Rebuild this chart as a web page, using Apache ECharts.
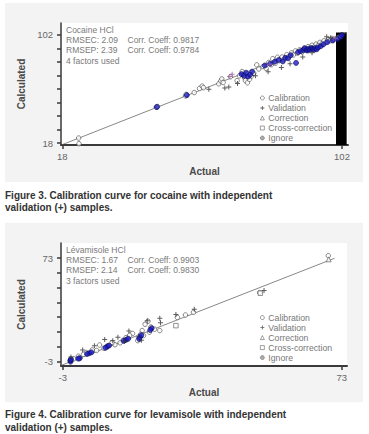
<!DOCTYPE html>
<html><head><meta charset="utf-8">
<script src="https://cdn.jsdelivr.net/npm/echarts@6/dist/echarts.min.js"></script>
<style>html,body{margin:0;padding:0;background:#fff;}#c{width:369px;height:434px;}</style>
</head><body><div id="c"></div>
<script>
// ---------- Chart 1: Cocaine HCl ----------
const cocaineCalibration = [[22.9,21.9],[23,17.5],[46.2,45.8],[46.6,46.4],[55,54.6],[55.2,55.8],[57.6,57.2],[59.2,60.4],[60,62.2],[60.4,61],
  [65,64],[65.6,66.2],[65.9,67.8],[66.3,65],[68.5,69.5],[70.5,66.5],[71.2,70.2],[72,73.5],[72.4,71.2],[72.8,68.4],[73,66.5],[73.6,64.8],
  [74.2,67.5],[74.8,70],[75.5,72.2],[76.4,78.7],[77,75.5],[78.3,77.4],[79.2,76],[80,80.6],[80.8,78.8],[81.2,83.5],[82,80],[82.6,84.6],
  [83.2,82],[84,84.8],[84.6,83.2],[85.4,86.6],[86,85],[86.8,88],[87.4,86.4],[88,89.5],[88.6,87.8],[89.3,90.4],[90,88.7],[90.6,91.6],
  [91.2,90],[91.8,92.8],[92.4,91.2],[93,94],[93.6,92.4],[94.2,94.8],[94.8,93.6],[95.4,96.2],[96,95.2],[96.6,97.4],[97.2,96],[97.8,98.2],
  [98.4,97.4],[99,99.2],[99.6,98.6],[100.8,99.7],[101.4,100.6]];
const cocaineSelected = [[46.4,46],[55.4,55.2],[71.8,71.5],[72.6,70.2],[73.2,72.6],[73.8,69.6],[74.4,71],[75,73.4],[78.8,78.2],[80.4,79.6],
  [81.8,81.2],[83,82.6],[84.2,81.4],[85,84.2],[85.8,83.8],[86.6,86.2],[88.2,80.2],[88.8,88.6],[89.6,89.4],[90.4,90.2],[90.8,91.6],[91.4,90.6],
  [91.6,89.8],[92,91.2],[92.4,90.4],[92.8,91.8],[93.2,91],[93.6,90.4],[94,91.6],[94.4,90.8],[94.8,92.2],[95.6,93.2],[96.4,94.6],[97.6,96.4],
  [99.2,97.6],[100.6,98.8],[101.6,100.4],[102,101.8]];
const cocaineValidation = [[62,59.8],[66.8,60.7],[68,61.5],[70.6,64.2],[76,70.2],[79.8,73.4],[83.8,76.6],[86.4,79.6],[90.2,84.8],[93,88.2],[97.4,100.6],[98.6,99.8]];
const cocainePurple = [[68.3,69.7],[69,71.4],[80.2,79],[100,99.4]];
const cocaineFit = [[17.8,16.6],[103.5,103.9]];
const cocaineBand = [[100.2,103.8],[103.4,16.5]];
const cocaineXTicks = [18,102];
const cocaineYTicks = [18,28.5,39,49.5,60,70.5,81,91.5,102];
const cocaineYLabels = [18,102];
const cocaineInfo = ['Cocaine HCl','RMSEC: 2.09','RMSEP: 2.39','4 factors used'];
const cocaineCorr = ['Corr. Coeff: 0.9817','Corr. Coeff: 0.9784'];

// ---------- Chart 2: Levamisole HCl ----------
const levCalibration = [[69.3,74.7],[50.6,47.6],[32.6,33.2],[30.4,31.2],[28.2,29.4],[23.4,19.8],[21,22.4],[20.2,26.6],[19.4,24.4],[18.6,19.8],
  [18.2,17],[17.6,15],[17.4,12.4],[19,16.2],[20.6,18.6],[22,20.8],[16,17.6],[15.2,16.4],[14.2,14.6],[13.4,12.6],[12.6,10.8],[11.2,9.4],
  [10.4,11],[9.2,8.6],[8.2,6.8],[7,9.2],[6.2,5.2],[5,5.6],[3.4,3.6],[2.6,2.4],[1.2,1],[0,-1],[-1,-2.2]];
const levSelected = [[21.2,21.5],[20.8,20.2],[18,14.9],[18.4,16.4],[17.8,13.6],[14.2,13],[13.6,12.2],[14.8,13.8],[9.1,8],[8.6,7.2],[9.6,8.8],
  [4.2,3.2],[3.6,2.6],[4.8,3.8],[1.6,-0.5],[1.2,-0.8],[-0.9,-3],[-0.9,-2],[-0.8,-1.2]];
const levValidation = [[51.8,49.2],[32.8,35.4],[23.4,28.8],[23.6,25.6],[27.8,31.6],[20,27],[15,19.4],[8.4,13.2],[2.4,5.6],[5.6,8.6],
  [10.6,12.4],[13.8,12],[18.4,12.6],[12,14.8],[-0.8,0.4]];
const levCorrection = [[69.4,72]];
const levCross = [[27.8,23.4],[50.8,47.2]];
const levFit = [[-3.5,-5.8],[71,72.8]];
const levXTicks = [-3,73];
const levYTicks = [-3,7.857,18.714,29.571,40.429,51.286,62.143,73];
const levYLabels = [-3,73];
const levInfo = ['Lévamisole HCl','RMSEC: 1.67','RMSEP: 2.14','3 factors used'];
const levCorr = ['Corr. Coeff: 0.9903','Corr. Coeff: 0.9830'];

const legendNames = ['Calibration','Validation','Correction','Cross-correction','Ignore'];
const captions = [
  ['Figure 3. Calibration curve for cocaine with independent','validation (+) samples.'],
  ['Figure 4. Calibration curve for levamisole with independent','validation (+) samples.']
];

const FONT = "'Liberation Sans', Arial, Helvetica, sans-serif";
const AX = '#3a3a3a';
const PLUS = 'path://M4,0H6V4H10V6H6V10H4V6H0V4H4Z';

function xAxisCfg(grid, min, max, ticks, name) {
  return {
    type: 'value', gridIndex: grid, min: min, max: max, name: name,
    nameLocation: 'middle', nameGap: 21,
    nameTextStyle: {fontFamily: FONT, fontWeight: 'bold', fontSize: 10, color: '#4a4a4a'},
    axisLine: {onZero: false, lineStyle: {color: AX, width: 2}},
    axisTick: {show: true, customValues: ticks, length: 4, lineStyle: {color: AX, width: 1.5}},
    axisLabel: {customValues: ticks, margin: 6, fontFamily: FONT, fontSize: 9.5, color: '#666'},
    splitLine: {show: false}
  };
}
function yAxisCfg(grid, min, max, ticks, labels, name) {
  return {
    type: 'value', gridIndex: grid, min: min, max: max, name: name,
    nameLocation: 'middle', nameGap: 35, nameRotate: 90,
    nameTextStyle: {fontFamily: FONT, fontWeight: 'bold', fontSize: 10, color: '#4a4a4a'},
    axisLine: {onZero: false, lineStyle: {color: AX, width: 1.5}},
    axisTick: {show: true, customValues: ticks, length: 4, lineStyle: {color: AX, width: 1.5}},
    axisLabel: {customValues: labels, margin: 8, fontFamily: FONT, fontSize: 9.5, color: '#666'},
    splitLine: {show: false}
  };
}
function seriesFor(idx, d) {
  const base = {type: 'scatter', xAxisIndex: idx, yAxisIndex: idx, animation: false};
  return [
    {type: 'line', xAxisIndex: idx, yAxisIndex: idx, data: d.fit, symbol: 'none', silent: true, animation: false,
     lineStyle: {color: '#555', width: 0.7}, z: 1,
     markArea: d.band ? {silent: true, itemStyle: {color: '#000', opacity: 1},
       data: [[{coord: d.band[0]}, {coord: d.band[1]}]]} : undefined},
    Object.assign({}, base, {name: 'Calibration', data: d.cal, symbol: 'circle', symbolSize: 4.5,
      itemStyle: {color: '#fff', borderColor: '#444', borderWidth: 0.8}, z: 2}),
    Object.assign({}, base, {name: 'Selected', data: d.sel, symbol: 'circle', symbolSize: 5,
      itemStyle: {color: '#1c1cc8', borderColor: '#0c0c50', borderWidth: 0.8}, z: 3}),
    Object.assign({}, base, {name: 'Validation', data: d.val, symbol: PLUS, symbolSize: 5,
      itemStyle: {color: '#333'}, z: 4}),
    Object.assign({}, base, {name: 'Correction', data: d.cor, symbol: 'triangle', symbolSize: 5,
      itemStyle: {color: '#fff', borderColor: '#555', borderWidth: 0.8}, z: 4}),
    Object.assign({}, base, {name: 'Cross-correction', data: d.cross, symbol: 'rect', symbolSize: 4.5,
      itemStyle: {color: '#fff', borderColor: '#555', borderWidth: 0.8}, z: 4}),
    Object.assign({}, base, {name: 'Ignore', data: [], symbol: 'circle', symbolSize: 5,
      itemStyle: {color: '#999', borderColor: '#666', borderWidth: 0.8}, z: 4}),
    Object.assign({}, base, {name: 'Other', data: d.purple, symbol: PLUS, symbolSize: 5,
      itemStyle: {color: '#9a5a9a'}, z: 4})
  ];
}
function legendCfg(top) {
  return {data: legendNames, orient: 'vertical', left: 260, top: top, padding: 0, itemGap: 0,
    itemWidth: 4, itemHeight: 4, selectedMode: false,
    itemStyle: {borderWidth: 0.7},
    textStyle: {fontFamily: FONT, fontSize: 8.7, color: '#777', lineHeight: 10, padding: [0,0,0,-1]}};
}
function infoTexts(lines, corr, x, y0, x2) {
  const out = [];
  lines.forEach((t, i) => out.push({type: 'text', x: x, y: y0 + i * 10.4,
    style: {text: t, fill: '#7a7a7a', font: '8.5px ' + FONT, verticalAlign: 'middle'}}));
  corr.forEach((t, i) => out.push({type: 'text', x: x2, y: y0 + (i + 1) * 10.4,
    style: {text: t, fill: '#7a7a7a', font: '8.5px ' + FONT, verticalAlign: 'middle'}}));
  return out;
}
function captionTexts(lines, y0) {
  return lines.map((t, i) => ({type: 'text', x: 5, y: y0 + i * 12.7,
    style: {text: t, fill: '#333', font: 'bold 10px ' + FONT, verticalAlign: 'middle'}}));
}

const chart = echarts.init(document.getElementById('c'), null, {renderer: 'svg'});
chart.setOption({
  animation: false,
  backgroundColor: '#fff',
  graphic: [
    {type: 'rect', z: -100, shape: {x: 5, y: 3, width: 358, height: 179}, style: {fill: '#f3f3f3'}},
    {type: 'rect', z: -100, shape: {x: 5, y: 222.7, width: 358, height: 179.6}, style: {fill: '#f3f3f3'}}
  ].concat(infoTexts(cocaineInfo, cocaineCorr, 66, 29.6, 127.5))
   .concat(infoTexts(levInfo, levCorr, 66, 249.6, 127.5))
   .concat(captionTexts(captions[0], 195))
   .concat(captionTexts(captions[1], 414.5)),
  grid: [
    {left: 61, right: 21, top: 23, bottom: 289, show: true, backgroundColor: '#fff', borderWidth: 0},
    {left: 61, right: 22, top: 243, bottom: 68, show: true, backgroundColor: '#fff', borderWidth: 0}
  ],
  xAxis: [
    xAxisCfg(0, 17.6, 103.8, cocaineXTicks, 'Actual'),
    xAxisCfg(1, -3.5, 74.4, levXTicks, 'Actual')
  ],
  yAxis: [
    yAxisCfg(0, 16.5, 111.2, cocaineYTicks, cocaineYLabels, 'Calculated'),
    yAxisCfg(1, -6.2, 84, levYTicks, levYLabels, 'Calculated')
  ],
  legend: [legendCfg(93), legendCfg(312.6)],
  series: seriesFor(0, {fit: cocaineFit, band: cocaineBand, cal: cocaineCalibration, sel: cocaineSelected,
      val: cocaineValidation, cor: [], cross: [], purple: cocainePurple})
    .concat(seriesFor(1, {fit: levFit, band: null, cal: levCalibration, sel: levSelected,
      val: levValidation, cor: levCorrection, cross: levCross, purple: []}))
});
</script></body></html>
